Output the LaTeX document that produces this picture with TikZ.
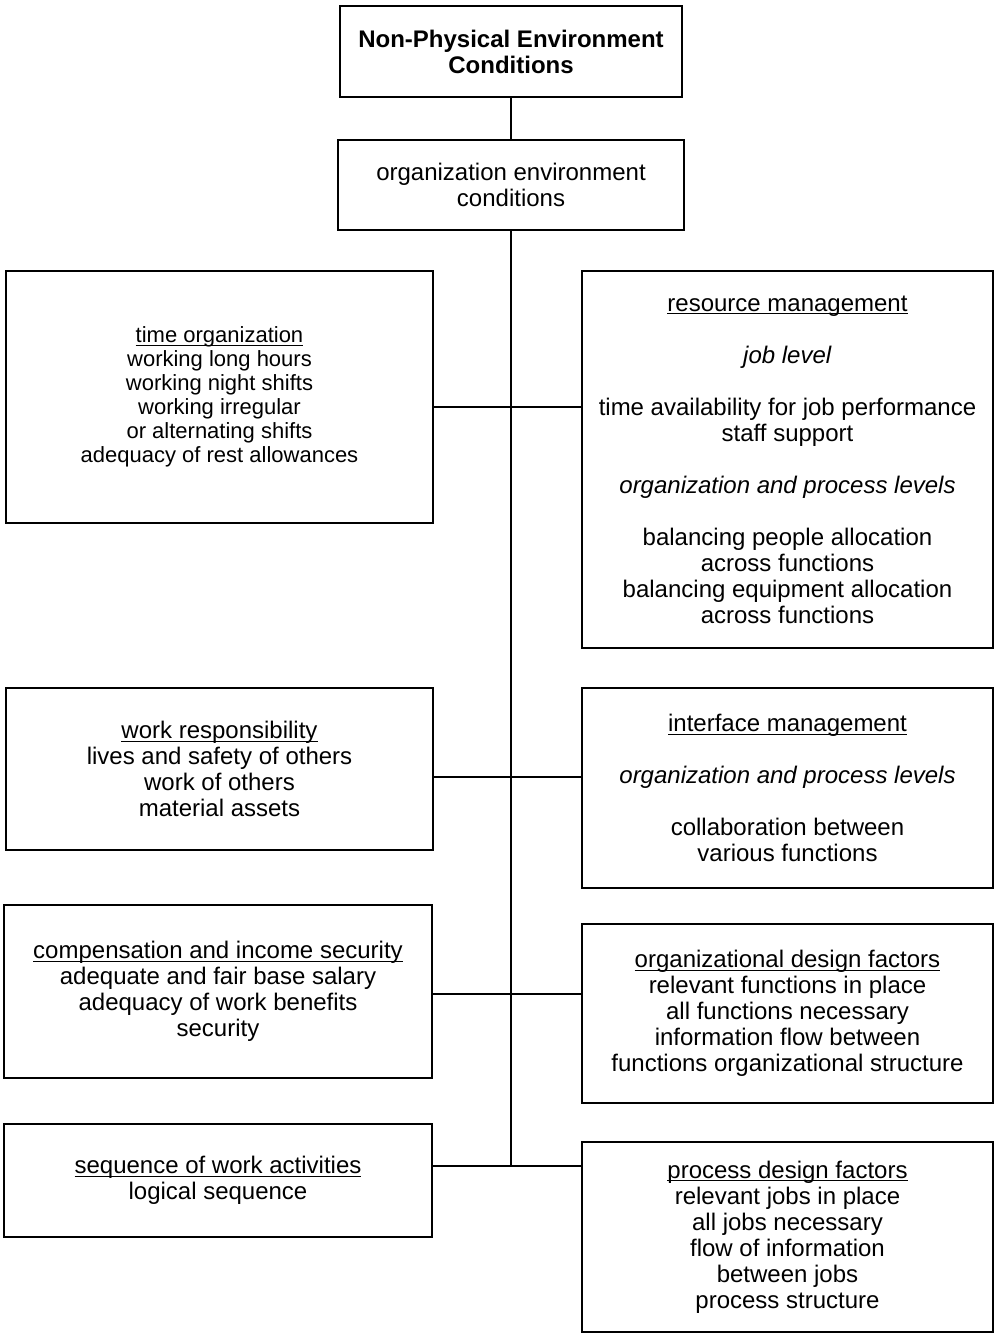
\documentclass[tikz,border=0pt]{standalone}
\usepackage{fontspec}
\setmainfont{Liberation Sans}
\usepackage{tikz}
\usetikzlibrary{positioning,calc}
\newsavebox{\hdbox}
\newcommand{\hd}[1]{\sbox{\hdbox}{#1}\rlap{\rule[-1.6pt]{\wd\hdbox}{0.6pt}}\usebox{\hdbox}}

\begin{document}
\begin{tikzpicture}[x=0.5pt,y=-0.5pt,line width=0.9pt,
  box/.style={draw,inner sep=0pt,align=center,font=\fontsize{12}{13}\selectfont}]
  \useasboundingbox (0,0) rectangle (994,1334);
  % top of the tree
  \node[box,minimum width=171pt,minimum height=45.5pt] (top) at (511,51.5) {\textbf{Non-Physical Environment}\\\textbf{Conditions}};
  \node[box,minimum width=173pt,minimum height=45pt] (oec) at (511,185) {organization environment\\conditions};
  % left column
  \node[box,minimum width=213.5pt,minimum height=126pt,font=\fontsize{11}{12}\selectfont] (tim) at (219.5,397) {\hd{time organization}\\working long hours\\working night shifts\\working irregular\\or alternating shifts\\adequacy of rest allowances};
  \node[box,minimum width=213.5pt,minimum height=81pt] (wrk) at (219.5,769) {\hd{work responsibility}\\lives and safety of others\\work of others\\material assets};
  \node[box,minimum width=214pt,minimum height=86.5pt] (cmp) at (218,991.5) {\hd{compensation and income security}\\adequate and fair base salary\\adequacy of work benefits\\security};
  \node[box,minimum width=214pt,minimum height=56.5pt] (seq) at (218,1180.5) {\hd{sequence of work activities}\\logical sequence};
  % right column
  \node[box,minimum width=205.5pt,minimum height=188.5pt] (res) at (787.5,459.5) {\hd{resource management}\\[13pt]\textit{job level}\\[13pt]time availability for job performance\\staff support\\[13pt]\textit{organization and process levels}\\[13pt]balancing people allocation\\across functions\\balancing equipment allocation\\across functions};
  \node[box,minimum width=205.5pt,minimum height=100pt] (itf) at (787.5,788) {\hd{interface management}\\[13pt]\textit{organization and process levels}\\[13pt]collaboration between\\various functions};
  \node[box,minimum width=205.5pt,minimum height=89.5pt] (odf) at (787.5,1013.5) {\hd{organizational design factors}\\relevant functions in place\\all functions necessary\\information flow between\\functions organizational structure};
  \node[box,minimum width=205.5pt,minimum height=95pt] (pdf) at (787.5,1237) {\hd{process design factors}\\relevant jobs in place\\all jobs necessary\\flow of information\\between jobs\\process structure};
  % trunk and branches
  \coordinate (j1) at (511,407);
  \coordinate (j2) at (511,777);
  \coordinate (j3) at (511,994);
  \coordinate (j4) at (511,1166);
  \draw (top) -- (oec);
  \draw (oec.south) -- (j4);
  \draw (j1 -| tim.east) -- (j1 -| res.west);
  \draw (j2 -| wrk.east) -- (j2 -| itf.west);
  \draw (j3 -| cmp.east) -- (j3 -| odf.west);
  \draw (j4 -| seq.east) -- (j4 -| pdf.west);
\end{tikzpicture}
\end{document}
